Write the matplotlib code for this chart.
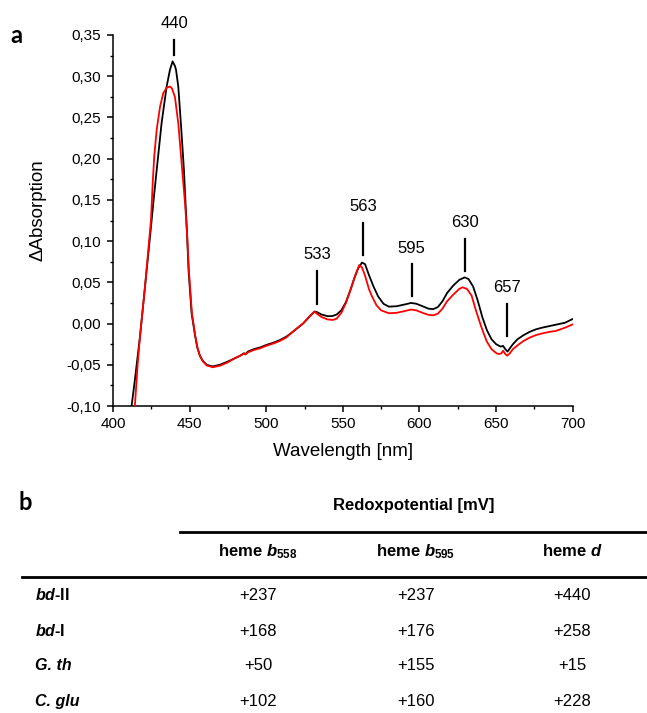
import numpy as np
import matplotlib
matplotlib.use("Agg")
import matplotlib.pyplot as plt
from matplotlib.lines import Line2D
from matplotlib.ticker import MultipleLocator, FixedLocator, FuncFormatter

# ---------------- data ----------------
wl_black = [411.5, 412.2, 414.3, 417.6, 420.9, 424.6, 426.5, 428.5, 431.7, 435, 437.2,
            438.9, 440.5, 441.1, 442.6, 444.3, 446.3, 447.5, 448.3, 449.3, 451.3, 453.5,
            455, 456.7, 458.5, 461.1, 465, 469.8, 475, 478.5, 483, 485.5,
            486.5, 488, 492, 496, 500, 505, 509, 513, 516, 520, 524, 528, 531.5, 533,
            536, 540, 543, 546, 549, 552, 555, 557.5, 560, 562.5, 564.5, 567, 570, 573,
            576.5, 580, 585, 590, 594.5, 598, 602, 606, 609, 612, 615, 618, 622, 626,
            629.5, 632, 635, 638, 641, 644, 647, 650, 653, 654.5, 656, 657.5, 659, 661,
            664, 668, 672, 676, 680, 685, 690, 695, 700]
abs_black = [-0.110, -0.099, -0.068, -0.016, 0.045, 0.1136, 0.150, 0.186, 0.243, 0.2875,
             0.308, 0.318, 0.312, 0.308, 0.2875, 0.243, 0.186, 0.140, 0.110, 0.065, 0.0125,
             -0.014, -0.029, -0.039, -0.045, -0.050, -0.052, -0.050,
             -0.046, -0.043, -0.039, -0.036, -0.037, -0.034, -0.031, -0.029, -0.026, -0.023,
             -0.020, -0.016, -0.012, -0.006, 0.000, 0.008, 0.0145, 0.014, 0.011, 0.009,
             0.009, 0.011, 0.016, 0.026, 0.041, 0.055, 0.067, 0.074, 0.072, 0.059, 0.045,
             0.033, 0.024, 0.0205, 0.021, 0.023, 0.025, 0.024, 0.021, 0.018, 0.0175, 0.020,
             0.027, 0.037, 0.046, 0.053, 0.056, 0.054, 0.045, 0.028, 0.008, -0.008, -0.019,
             -0.025, -0.028, -0.027, -0.031, -0.034, -0.030, -0.025, -0.019, -0.014, -0.010,
             -0.007, -0.005, -0.003, -0.001, 0.001, 0.0055]

wl_red = [414.0, 414.3, 416, 417.6, 420.9, 424.8, 425.9, 426.9, 428.5, 430.7, 432.8, 435,
          437.2, 438.5, 440.4, 442.6, 444.8, 447, 448.3, 449.5, 451.5, 453.7, 455.2, 456.9,
          458.7, 461.3, 465.2, 470, 475, 478.5, 483, 485.5, 486.5, 488, 492, 496, 500,
          505, 509, 513, 516, 520, 524, 528, 531.5, 533, 536, 540, 543.5, 546, 549, 552,
          555, 558, 560.7, 562.5, 564.5, 567, 569, 572, 575, 580, 585, 590, 594.5, 598,
          602, 606, 609, 612, 615, 618, 622, 626, 628.1, 631, 634, 637, 640, 641.5, 644,
          647, 650.2, 652, 653.5, 654.6, 656, 657.3, 659, 661, 665, 668, 672, 676, 680,
          685, 689, 695, 700]
abs_red = [-0.107, -0.099, -0.052, -0.016, 0.045, 0.126, 0.170, 0.2025, 0.235, 0.263,
           0.2795, 0.286, 0.2875, 0.285, 0.275, 0.243, 0.194, 0.146, 0.110, 0.065, 0.0125,
           -0.015, -0.030, -0.040, -0.046, -0.051, -0.053, -0.051, -0.047, -0.043,
           -0.039, -0.0365, -0.0375, -0.035, -0.032, -0.030, -0.027, -0.024, -0.021, -0.017,
           -0.012, -0.006, 0.000, 0.008, 0.0145, 0.012, 0.008, 0.005, 0.0044, 0.006, 0.013,
           0.025, 0.041, 0.058, 0.071, 0.068, 0.058, 0.042, 0.033, 0.022, 0.016, 0.0125,
           0.013, 0.015, 0.017, 0.016, 0.013, 0.0105, 0.010, 0.012, 0.018, 0.027, 0.035,
           0.042, 0.044, 0.042, 0.034, 0.015, -0.002, -0.010, -0.022, -0.031, -0.036,
           -0.037, -0.036, -0.033, -0.037, -0.039, -0.036, -0.031, -0.025, -0.021, -0.017,
           -0.014, -0.012, -0.010, -0.009, -0.005, -0.001]

peak_labels = [440, 533, 563, 595, 630, 657]

x_ticks = [400, 450, 500, 550, 600, 650, 700]
y_ticks = [-0.10, -0.05, 0.00, 0.05, 0.10, 0.15, 0.20, 0.25, 0.30, 0.35]

table_title = "Redoxpotential [mV]"
table_columns = [r"heme $\mathit{b}_{\mathbf{558}}$",
                 r"heme $\mathit{b}_{\mathbf{595}}$",
                 r"heme $\mathit{d}$"]
table_rows = [r"$\mathit{bd}$-II", r"$\mathit{bd}$-I", "G. th", "C. glu"]
table_values = [["+237", "+237", "+440"],
                ["+168", "+176", "+258"],
                ["+50", "+155", "+15"],
                ["+102", "+160", "+228"]]

# ---------------- style ----------------
plt.rcParams["font.family"] = ["Liberation Sans", "DejaVu Sans"]
plt.rcParams["mathtext.fontset"] = "custom"
plt.rcParams["mathtext.it"] = "Liberation Sans:italic:bold"
plt.rcParams["mathtext.bf"] = "Liberation Sans:bold"
plt.rcParams["mathtext.rm"] = "Liberation Sans"

W, H = 647, 713
fig = plt.figure(figsize=(W / 100, H / 100), dpi=100)


def P(x, y):
    return x / W, 1 - y / H


ax_l, ax_r, ax_t, ax_b = 113, 572.7, 35, 406
ax = fig.add_axes([ax_l / W, 1 - ax_b / H, (ax_r - ax_l) / W, (ax_b - ax_t) / H])

ax.plot(wl_black, abs_black, color="black", lw=1.3, zorder=3)
ax.plot(wl_red, abs_red, color="#ff0000", lw=1.3, zorder=4)

ax.set_xlim(400, 700)
ax.set_ylim(-0.10, 0.35)
for s in ("top", "right"):
    ax.spines[s].set_visible(False)
for s in ("left", "bottom"):
    ax.spines[s].set_linewidth(1.1)

ax.xaxis.set_major_locator(FixedLocator(x_ticks))
ax.yaxis.set_major_locator(FixedLocator(y_ticks))
ax.xaxis.set_minor_locator(MultipleLocator(25))
ax.yaxis.set_minor_locator(MultipleLocator(0.025))
ax.yaxis.set_major_formatter(FuncFormatter(lambda v, p: f"{v:.2f}".replace(".", ",")))
ax.tick_params(which="major", direction="out", length=4, width=1.1, labelsize=11)
ax.tick_params(which="minor", direction="out", length=2.2, width=1.0)
ax.tick_params(axis="y", pad=4.5)
ax.tick_params(axis="x", pad=4)

ax.set_xlabel("Wavelength [nm]", fontsize=13.5)
ax.set_ylabel("\u0394Absorption", fontsize=13.5)
ax.xaxis.set_label_coords(0.5, -0.10)
ax.yaxis.set_label_coords(-0.145, 0.528)

# peak markers
ppu = (ax_b - ax_t) / 0.45  # pixels per data unit
gaps = [10, 8, 8, 7, 7, 15]
lengths = [15, 33, 32, 32, 32, 32]
for pk, g, ln in zip(peak_labels, gaps, lengths):
    y0 = np.interp(pk, wl_black, abs_black)
    ylo = y0 + g / ppu
    yhi = y0 + (g + ln) / ppu
    ax.plot([pk, pk], [ylo, yhi], color="black", lw=1.6, clip_on=False, zorder=5)
    ax.annotate(str(pk), xy=(pk, yhi), xytext=(0, 8.3), textcoords="offset points",
                ha="center", va="baseline", fontsize=12, annotation_clip=False)

# panel letters
fig.text(*P(10, 43), "a", fontsize=17, fontweight="bold", family=["Lato", "DejaVu Sans"],
         va="baseline", ha="left")
fig.text(*P(18, 510), "b", fontsize=17, fontweight="bold", family=["Lato", "DejaVu Sans"],
         va="baseline", ha="left")

# ---------------- table ----------------
col_x = [258, 416, 572]
fig.text(*P(414, 510), table_title, fontsize=12, fontweight="bold", ha="center", va="baseline")
fig.add_artist(Line2D([180 / W, 1.0], [1 - 531.7 / H] * 2, color="black", lw=2.0))
for cx, lab in zip(col_x, table_columns):
    fig.text(*P(cx, 556), lab, fontsize=12, fontweight="bold", ha="center", va="baseline")
fig.add_artist(Line2D([22 / W, 1.0], [1 - 577.3 / H] * 2, color="black", lw=2.0))

row_y = [600.5, 636, 670.5, 706]
for ry, rlab, vals in zip(row_y, table_rows, table_values):
    style = "normal" if "$" in rlab else "italic"
    fig.text(*P(35, ry), rlab, fontsize=11.5, fontweight="bold", fontstyle=style,
             ha="left", va="baseline")
    for cx, v in zip(col_x, vals):
        fig.text(*P(cx, ry), v, fontsize=12, ha="center", va="baseline")

fig.savefig("out.png", dpi=100)
